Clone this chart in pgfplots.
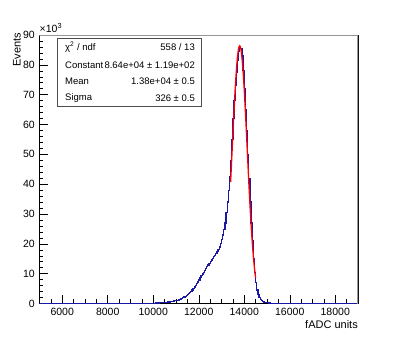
\documentclass[border=0pt]{standalone}
\usepackage{pgfplots}
\pgfplotsset{compat=1.18}
\usepackage{fontspec}
\setmainfont{Liberation Sans}
\definecolor{histblue}{RGB}{25,25,165}
\definecolor{framegray}{RGB}{150,150,150}
\begin{document}
\begin{tikzpicture}
\path[use as bounding box] (-39.5bp,-35bp) rectangle (359.5bp,303.5bp);
\begin{axis}[
  width=318.5bp, height=268.5bp, scale only axis,
  at={(0,0)}, anchor=south west,
  xmin=5000, xmax=19000, ymin=0, ymax=90000,
  xtick={6000,8000,10000,12000,14000,16000,18000},
  xticklabels={6000,8000,10000,12000,14000,16000,18000},
  ytick={0,10000,20000,30000,40000,50000,60000,70000,80000,90000},
  yticklabels={0,10,20,30,40,50,60,70,80,90},
  minor xtick={5000,5500,...,19000},
  minor ytick={0,2000,...,90000},
  scaled x ticks=false, scaled y ticks=false,
  tick align=inside, xtick pos=left, ytick pos=left,
  major tick length=8bp, minor tick length=4bp,
  tick style={black, line width=0.5bp},
  axis line style={black, line width=0.6bp},
  xticklabel style={font=\fontsize{10.5bp}{12bp}\selectfont, inner sep=0pt, yshift=-4bp},
  yticklabel style={font=\fontsize{10.5bp}{12bp}\selectfont, inner sep=0pt, xshift=-4.5bp},
  clip=true,
]
% histogram (bin low edge, counts), bin width 50
\addplot[const plot mark left, histblue, line width=1.25bp] coordinates {
(5000,0) (8500,5) (9000,15) (9500,40) (9700,60) (9850,80)
(10000,100) (10050,120) (10100,140) (10150,160) (10200,180) (10250,210)
(10300,240) (10350,270) (10400,300) (10450,330) (10500,360) (10550,400)
(10600,440) (10650,490) (10700,540) (10750,600) (10800,660) (10850,730)
(10900,800) (10950,880) (11000,970) (11050,1080) (11100,1200) (11150,1350)
(11200,1550) (11250,1750) (11300,1950) (11350,2150) (11400,2400) (11450,2650)
(11500,2950) (11550,3300) (11600,3700) (11650,4100) (11700,4550) (11750,5000)
(11800,5500) (11850,6000) (11900,6600) (11950,7200) (12000,7900) (12050,8600)
(12100,9300) (12150,9900) (12200,10500) (12250,11100) (12300,11700) (12350,12300)
(12400,12900) (12450,13400) (12500,14000) (12550,14600) (12600,15100) (12650,15700)
(12700,16200) (12750,16800) (12800,17400) (12850,18000) (12900,18900) (12950,20000)
(13000,21500) (13050,23000) (13100,24800) (13150,27000) (13200,30500) (13250,34000)
(13300,38000) (13350,42500) (13400,48000) (13450,55000) (13500,62000) (13550,68000)
(13600,73000) (13650,77500) (13700,81500) (13750,84500) (13800,86200) (13850,85500)
(13900,83000) (13950,78000) (14000,72000) (14050,65000) (14100,58000) (14150,50000)
(14200,42000) (14250,34000) (14300,27000) (14350,21000) (14400,15000) (14450,10500)
(14500,7000) (14550,4500) (14600,2900) (14650,1900) (14700,1300) (14750,900)
(14800,650) (14850,480) (14900,360) (14950,280) (15000,220) (15050,170)
(15100,130) (15150,100) (15200,80) (15250,60) (15300,45) (15350,35)
(15400,25) (15450,20) (15500,15) (15550,10) (15600,5) (16000,0) (19000,0)
};
% Gaussian fit curve (sampled values)
\addplot[smooth, red, line width=1.3bp] coordinates {
(13400,40700) (13450,48600) (13500,56600) (13550,64400) (13600,71600)
(13650,77700) (13700,82400) (13750,85400) (13800,86400) (13850,85400)
(13900,82400) (13950,77700) (14000,71600) (14050,64400) (14100,56600)
(14150,48600) (14200,40700) (14250,33300) (14300,26600) (14350,20800)
(14400,15900) (14450,11800) (14500,8600)
};
\draw[framegray, line width=1.4bp] (rel axis cs:0,1) -- (rel axis cs:1,1) -- (rel axis cs:1,0);
\end{axis}
% multiplier
\node[anchor=base west, inner sep=0pt, font=\fontsize{10.5bp}{12bp}\selectfont] at (0bp,271bp) {×10\textsuperscript{3}};
% axis titles
\node[anchor=base east, inner sep=0pt, font=\fontsize{11bp}{13bp}\selectfont] at (318.5bp,-25bp) {fADC units};
\node[rotate=90, anchor=east, inner sep=0pt, font=\fontsize{11bp}{13bp}\selectfont] at (-22.5bp,270.5bp) {Events};
% stats box
\draw[fill=white, draw=black!70, line width=0.6bp] (17.5bp,197bp) rectangle (161.5bp,265bp);
\begin{scope}[every node/.style={inner sep=0pt, font=\fontsize{9.5bp}{11bp}\selectfont}]
\node[anchor=west] at (25.5bp,256.3bp) {χ\textsuperscript{2} / ndf};
\node[anchor=east] at (155.5bp,256.3bp) {558 / 13};
\node[anchor=west] at (25.5bp,238.7bp) {Constant};
\node[anchor=east] at (155.5bp,238.7bp) {8.64e+04 ± 1.19e+02};
\node[anchor=west] at (25.5bp,222bp) {Mean};
\node[anchor=east] at (155.5bp,222bp) {1.38e+04 ± 0.5};
\node[anchor=west] at (25.5bp,205.3bp) {Sigma};
\node[anchor=east] at (155.5bp,205.3bp) {326 ± 0.5};
\end{scope}
\end{tikzpicture}
\end{document}
